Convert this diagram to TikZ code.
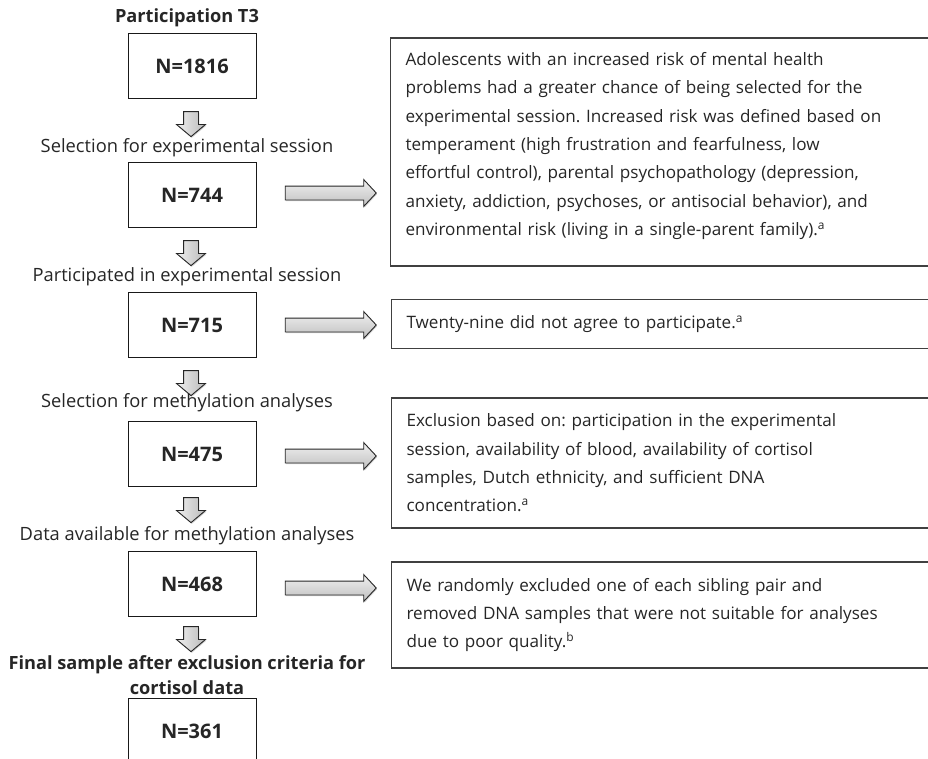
\documentclass[tikz,border=0pt]{standalone}
\usepackage{fontspec}
\setmainfont{Open Sans}
\usetikzlibrary{shapes.arrows,shadows}
\frenchspacing

\tikzset{
  nbox/.style={draw=black!90, line width=0.9pt, minimum width=128pt, minimum height=65pt,
    inner sep=0pt, font=\bfseries\fontsize{20}{22}\selectfont, text=black!85},
  steplabel/.style={font=\fontsize{18.3}{25}\selectfont, text=black!85, align=center},
  boldlabel/.style={steplabel, font=\bfseries\fontsize{18.2}{25}\selectfont},
  notebox/.style={draw=black!75, line width=1.1pt, anchor=west, text width=520pt,
    inner xsep=15pt, align=left, font=\fontsize{17.1}{28.3}\selectfont, text=black!85},
  downarrow/.style={single arrow, draw=black!85, line width=0.9pt, rotate=-90,
    left color=gray!12, right color=gray!55, minimum height=25pt, minimum width=28pt,
    inner xsep=0pt, inner ysep=7pt, single arrow head extend=7pt,
    single arrow tip angle=100,
    drop shadow={shadow xshift=0.8pt, shadow yshift=-1.2pt, opacity=0.35}},
  rightarrow/.style={single arrow, draw=black!85, line width=0.9pt,
    top color=gray!12, bottom color=gray!50, minimum height=91pt, minimum width=26pt,
    inner xsep=0pt, inner ysep=6.5pt, single arrow head extend=6.5pt,
    single arrow tip angle=94,
    drop shadow={shadow xshift=0.8pt, shadow yshift=-1.2pt, opacity=0.35}},
}

\begin{document}
\begin{tikzpicture}[x=1pt,y=-1pt]
        \clip (0,0) rectangle (928,758);
        \fill[white] (0,0) rectangle (928,758);
        % Left column
        \node[boldlabel] (lab1) at (187,18) {Participation T3};
        \node[nbox] (box1) at (192,66) {N=1816};
        \node[downarrow] (dn1) at (191,121) {};
        \node[steplabel] (lab2) at (187,148) {Selection for experimental session};
        \node[nbox] (box2) at (192,195) {N=744};
        \node[downarrow] (dn2) at (191,250) {};
        \node[steplabel] (lab3) at (187,277) {Participated in experimental session};
        \node[nbox] (box3) at (192,325) {N=715};
        \node[downarrow] (dn3) at (191,380) {};
        \node[steplabel] (lab4) at (187,403) {Selection for methylation analyses};
        \node[nbox] (box4) at (192,454) {N=475};
        \node[downarrow] (dn4) at (191,507) {};
        \node[steplabel] (lab5) at (187,536) {Data available for methylation analyses};
        \node[nbox] (box5) at (192,584) {N=468};
        \node[downarrow] (dn5) at (191,636) {};
        \node[boldlabel] (lab6) at (187,675)
          {Final sample after exclusion criteria for\\cortisol data};
        \node[nbox] (box6) at (192,731) {N=361};
        % Side arrows
        \node[rightarrow] (rt1) at (327.5,193) {};
        \node[rightarrow] (rt2) at (327.5,325) {};
        \node[rightarrow] (rt3) at (327.5,456) {};
        \node[rightarrow] (rt4) at (327.5,588) {};
        % Notes
        \node[notebox, minimum height=228pt] (note1) at (390,152)
          {Adolescents with an increased risk of mental health\\
           problems had a greater chance of being selected for the\\
           experimental session. Increased risk was defined based on\\
           temperament (high frustration and fearfulness, low\\
           effortful control), parental psychopathology (depression,\\
           anxiety, addiction, psychoses, or antisocial behavior), and\\
           environmental risk (living in a single-parent family).\textsuperscript{a}\rule[-16pt]{0pt}{16pt}};
        \node[notebox, minimum height=49pt] (note2) at (391,324)
          {Twenty-nine did not agree to participate.\textsuperscript{a}};
        \node[notebox, minimum height=130pt] (note3) at (391,463)
          {Exclusion based on: participation in the experimental\\
           session, availability of blood, availability of cortisol\\
           samples, Dutch ethnicity, and sufficient DNA\\
           concentration.\textsuperscript{a}};
        \node[notebox, minimum height=106pt] (note4) at (391,615)
          {We randomly excluded one of each sibling pair and\\
           removed DNA samples that were not suitable for analyses\\
           due to poor quality.\textsuperscript{b}};
      \end{tikzpicture}
\end{document}
